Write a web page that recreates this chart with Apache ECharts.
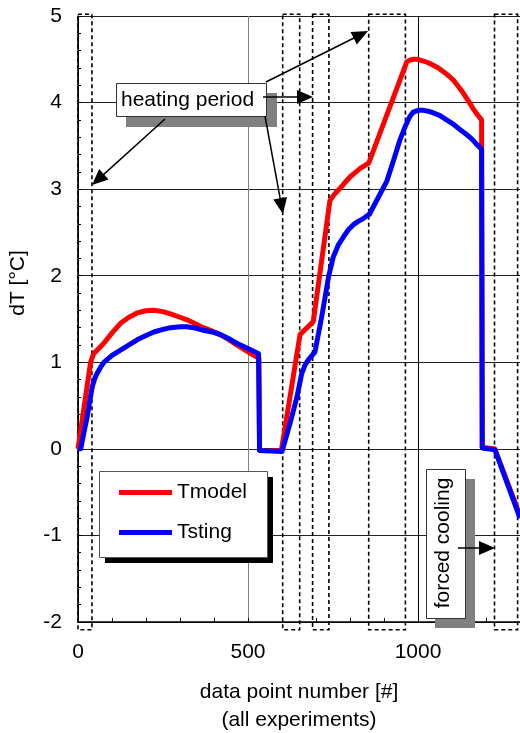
<!DOCTYPE html>
<html>
<head>
<meta charset="utf-8">
<script src="https://cdn.jsdelivr.net/npm/echarts@6/dist/echarts.min.js"></script>
<style>
html,body{margin:0;padding:0;background:#fff;}
#chart{width:520px;height:733px;}
</style>
</head>
<body>
<div id="chart"></div>
<script>
// ---- data ----
const seriesNames = ['Tmodel', 'Tsting'];
const tmodel = [
  [0,0],[37,1.0],[46,1.1],[76,1.22],[100,1.34],[125,1.45],[150,1.52],[174,1.57],[200,1.595],[223,1.6],
  [250,1.585],[272,1.56],[300,1.52],[321,1.49],[345,1.445],[369,1.40],[395,1.36],[418,1.32],[440,1.27],[467,1.2],
  [500,1.12],[526,1.06],[532,1.05],[534,-0.02],[598,-0.02],[653,1.32],[692,1.47],[741,2.87],[756,2.95],
  [771,3.01],[786,3.08],[800,3.14],[815,3.19],[830,3.24],[855,3.30],[967,4.47],[976,4.49],[986,4.5],
  [1000,4.5],[1016,4.48],[1030,4.46],[1045,4.43],[1060,4.40],[1074,4.36],[1090,4.31],[1104,4.26],
  [1120,4.18],[1133,4.11],[1148,4.02],[1162,3.93],[1175,3.86],[1187,3.80],[1189,0.02],[1226,0.0],[1300,-0.77]
];
const tsting = [
  [0,0],[8,0.0],[18,0.2],[27,0.37],[35,0.56],[42,0.72],[50,0.82],[56,0.87],[66,0.94],[76,1.0],[100,1.08],
  [125,1.14],[150,1.2],[174,1.26],[200,1.31],[223,1.35],[250,1.38],[272,1.4],[301,1.41],[320,1.41],[340,1.40],
  [369,1.37],[395,1.35],[418,1.32],[440,1.28],[467,1.22],[500,1.16],[531,1.1],[534,-0.02],[600,-0.03],
  [604,-0.03],[624,0.3],[644,0.6],[658,0.87],[668,0.97],[678,1.03],[697,1.12],[717,1.53],[737,1.99],
  [751,2.22],[765,2.35],[781,2.45],[795,2.53],[810,2.59],[825,2.63],[839,2.66],[857,2.71],[880,2.88],
  [908,3.09],[928,3.33],[947,3.57],[962,3.72],[976,3.84],[986,3.89],[1000,3.91],[1016,3.91],[1030,3.90],
  [1045,3.88],[1065,3.85],[1084,3.8],[1104,3.75],[1123,3.69],[1140,3.64],[1158,3.58],[1172,3.52],
  [1187,3.46],[1189,0.01],[1226,-0.01],[1300,-0.8]
];
const heatingPeriods = [[0,41],[602,652],[690,738],[855,963],[1225,1293]];
const xTicks = [0, 500, 1000];
const yTicks = [-2,-1,0,1,2,3,4,5];

const FONT = 'Liberation Sans, Arial, Helvetica, sans-serif';

function arrow(x1,y1,x2,y2){
  const dx=x2-x1, dy=y2-y1, L=Math.hypot(dx,dy), ux=dx/L, uy=dy/L;
  const hl=16, hw=7;
  const bx=x2-ux*hl, by=y2-uy*hl;
  return [
    {type:'line', z:60, silent:true, shape:{x1:x1,y1:y1,x2:bx+ux*2,y2:by+uy*2}, style:{stroke:'#000', lineWidth:1.5}},
    {type:'polygon', z:60, silent:true, shape:{points:[[x2,y2],[bx-uy*hw,by+ux*hw],[bx+uy*hw,by-ux*hw]]}, style:{fill:'#000'}}
  ];
}

const graphics = [
  // y axis title
  {type:'text', z:60, x:18, y:283, rotation:Math.PI/2,
   style:{text:'dT [°C]', font:'21px '+FONT, fill:'#000', align:'center', verticalAlign:'middle'}},
  // heating period box
  {type:'rect', z:50, shape:{x:126,y:93,width:151,height:34}, style:{fill:'#808080'}},
  {type:'rect', z:51, shape:{x:116.5,y:83.5,width:150,height:33}, style:{fill:'#fff', stroke:'#333', lineWidth:1}},
  {type:'text', z:52, x:121, y:100, style:{text:'heating period', font:'21px '+FONT, fill:'#000', align:'left', verticalAlign:'middle'}},
  // forced cooling box
  {type:'rect', z:50, shape:{x:435,y:479,width:40,height:149}, style:{fill:'#808080'}},
  {type:'rect', z:51, shape:{x:426.5,y:469.5,width:39,height:149}, style:{fill:'#fff', stroke:'#333', lineWidth:1}},
  {type:'text', z:52, x:443, y:543, rotation:Math.PI/2,
   style:{text:'forced cooling', font:'21px '+FONT, fill:'#000', align:'center', verticalAlign:'middle'}},
  // legend box
  {type:'rect', z:50, shape:{x:105,y:477,width:168,height:86}, style:{fill:'#000'}},
  {type:'rect', z:51, shape:{x:99.5,y:471.5,width:168,height:86}, style:{fill:'#fff', stroke:'#555', lineWidth:1}}
].concat(
  arrow(165,119,92,185),
  arrow(266,82,368,31),
  arrow(263,97,313,97),
  arrow(265,116,283,214),
  arrow(458,548,495,548)
);

const chart = echarts.init(document.getElementById('chart'), null, {renderer:'canvas'});
chart.setOption({
  backgroundColor:'#fff',
  animation:false,
  grid:{left:78, right:0, top:16, bottom:111, containLabel:false, outerBoundsMode:'none'},
  legend:{
    data:seriesNames, orient:'vertical', left:119, top:482, itemGap:19, padding:0,
    icon:'rect', itemWidth:53, itemHeight:5, z:100,
    textStyle:{fontSize:21, fontFamily:FONT, color:'#000'}
  },
  xAxis:{
    type:'value', min:xTicks[0], max:1300, interval:xTicks[1]-xTicks[0],
    name:'data point number [#]\n(all experiments)', nameLocation:'middle', nameGap:56,
    nameTextStyle:{fontSize:21, fontFamily:FONT, color:'#000', lineHeight:28},
    axisLine:{show:true, onZero:false, lineStyle:{color:'#000', width:1.5}},
    axisTick:{show:true, inside:true, length:4, lineStyle:{color:'#000'}},
    minorTick:{show:true, splitNumber:5, length:4, lineStyle:{color:'#000'}},
    axisLabel:{fontSize:21, fontFamily:FONT, color:'#000', margin:20, showMaxLabel:false,
      formatter:function(v){return xTicks.indexOf(v)>=0 ? String(v) : '';}},
    splitLine:{show:true, lineStyle:{color:['#000','#808080','#000','#000'], width:1}}
  },
  yAxis:{
    type:'value', min:yTicks[0], max:yTicks[yTicks.length-1], interval:1,
    axisLine:{show:true, onZero:false, lineStyle:{color:'#000', width:1.5}},
    axisTick:{show:true, inside:true, length:4, lineStyle:{color:'#000'}},
    minorTick:{show:true, splitNumber:5, length:3, lineStyle:{color:'#000'}},
    axisLabel:{fontSize:21, fontFamily:FONT, color:'#000', margin:16},
    splitLine:{show:true, lineStyle:{color:'#222', width:1}}
  },
  graphic:graphics,
  series:[
    {
      type:'custom', name:'heating', z:1, clip:false, silent:true,
      data:heatingPeriods,
      renderItem:function(params, api){
        const p0 = api.coord([api.value(0), 5.02]);
        const p1 = api.coord([api.value(1), -2.09]);
        return {type:'rect', shape:{x:p0[0], y:p0[1], width:p1[0]-p0[0], height:p1[1]-p0[1]},
          style:{fill:'none', stroke:'#000', lineWidth:1.6, lineDash:[4,3]}};
      }
    },
    {
      type:'line', name:seriesNames[0], data:tmodel, showSymbol:false, symbol:'none', z:3,
      lineStyle:{color:'#ff0000', width:5, join:'round'}, itemStyle:{color:'#ff0000'}
    },
    {
      type:'line', name:seriesNames[1], data:tsting, showSymbol:false, symbol:'none', z:4,
      lineStyle:{color:'#0000ff', width:5, join:'round'}, itemStyle:{color:'#0000ff'}
    }
  ]
});
</script>
</body>
</html>
